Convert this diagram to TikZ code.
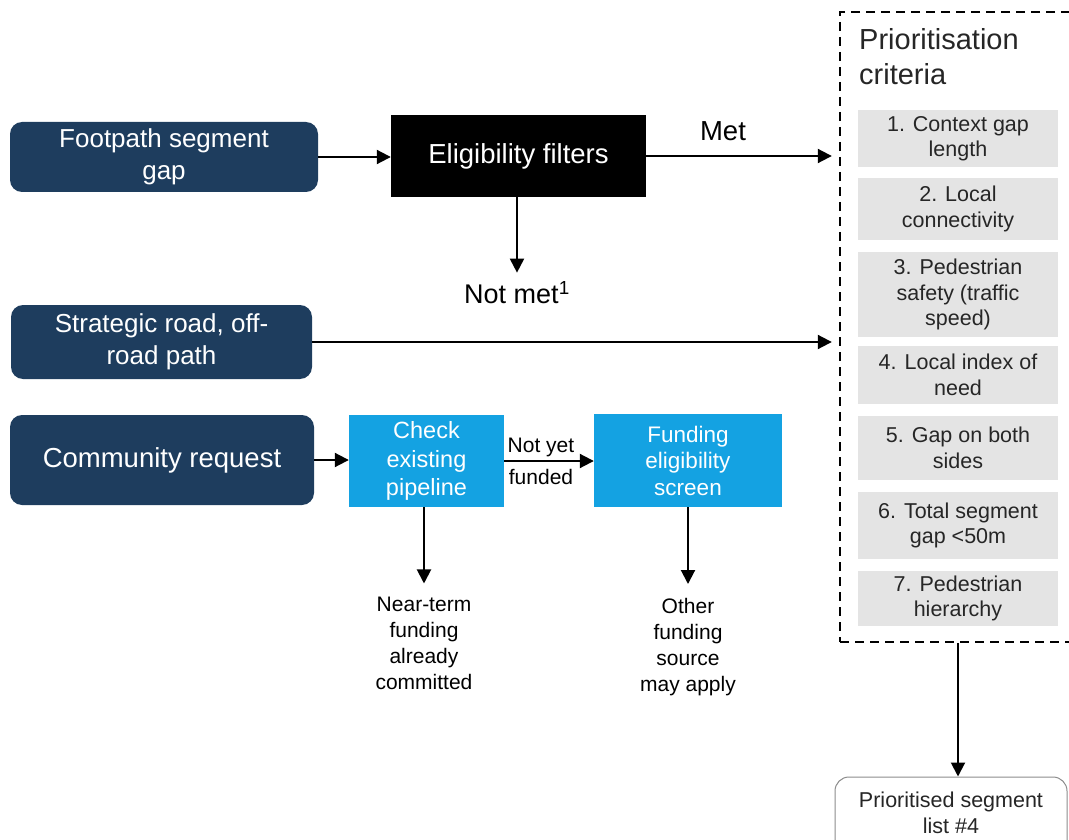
\documentclass[tikz,border=0pt]{standalone}
\usepackage{fontspec}
\setmainfont{Liberation Sans}
\usetikzlibrary{arrows.meta}
\definecolor{navy}{HTML}{1E3D5E}
\definecolor{skyblue}{HTML}{14A2E2}
\definecolor{critgray}{HTML}{E4E4E4}
\newcommand{\fs}[2]{\fontsize{#1}{#2}\selectfont}
\begin{document}
\begin{tikzpicture}[x=1pt,y=-1pt,
  srcbox/.style={draw=none,fill=navy,rounded corners=12pt,text=white,align=center,inner sep=0pt,font=\fs{26}{32}},
  bluebox/.style={draw=none,fill=skyblue,text=white,align=center,inner sep=0pt,font=\fs{23.5}{28.5}},
  critbox/.style={draw=none,fill=critgray,text=black!85,align=center,inner sep=0pt,minimum width=200pt,font=\fs{21.5}{25.5}},
  note/.style={align=center,inner sep=0pt,font=\fs{21}{26}},
  arr/.style={line width=2pt,-{Triangle[length=14pt,width=14pt]}}]
\useasboundingbox (0,0) rectangle (1069,840);
\begin{scope}
\clip (0,0) rectangle (1069,840);

% sources
\node[srcbox,minimum width=308pt,minimum height=70pt] (foot) at (164,157) {Footpath segment\\gap};
\node[srcbox,minimum width=301pt,minimum height=74pt] (strat) at (161.5,342) {Strategic road, off-\\road path};
\node[srcbox,minimum width=304pt,minimum height=90pt,font=\fs{27.5}{32}] (comm) at (162,460) {Community request};

% filter
\node[fill=black,text=white,inner sep=0pt,minimum width=255pt,minimum height=82pt,font=\fs{27.5}{32}] (elig) at (518.5,156) {Eligibility filters};
\node[inner sep=0pt,font=\fs{27}{32}] (notmet) at (517,293) {Not met\textsuperscript{1}};
\node[inner sep=0pt,font=\fs{27.5}{32}] (met) at (723,131) {Met};

% community request path
\node[bluebox,minimum width=155pt,minimum height=92pt] (check) at (426.5,461) {Check\\existing\\pipeline};
\node[bluebox,minimum width=188pt,minimum height=93pt,font=\fs{22.5}{26.5}] (fund) at (688,460.5) {Funding\\eligibility\\screen};
\node[note] (near) at (424,643) {Near-term\\funding\\already\\committed};
\node[note] (other) at (688,647) {Other\\funding\\source\\may apply};
\node[note,font=\fs{21}{32}] (notyet) at (541,461) {Not yet\\funded};

% prioritisation criteria
\node[draw,dashed,line width=2.4pt,dash pattern=on 9pt off 6pt,inner sep=0pt,
      minimum width=250pt,minimum height=630pt] (crit) at (965,327) {};
\node[anchor=west,align=left,inner sep=0pt,font=\fs{29}{35},text=black!85] (crittitle) at (859,57) {Prioritisation\\criteria};
\node[critbox,minimum height=57pt] (c1) at (958,138.5) {1. Context gap\\length};
\node[critbox,minimum height=62pt] (c2) at (958,209) {2. Local\\connectivity};
\node[critbox,minimum height=85pt] (c3) at (958,294.5) {3. Pedestrian\\safety (traffic\\speed)};
\node[critbox,minimum height=58pt] (c4) at (958,375) {4. Local index of\\need};
\node[critbox,minimum height=64pt] (c5) at (958,448) {5. Gap on both\\sides};
\node[critbox,minimum height=67pt] (c6) at (958,525.5) {6. Total segment\\gap <50m};
\node[critbox,minimum height=55pt] (c7) at (958,598.5) {7. Pedestrian\\hierarchy};

% output
\node[draw=black!45,line width=1pt,rounded corners=14pt,fill=white,inner sep=0pt,
      minimum width=232pt,minimum height=80pt] (final) at (951,817) {};
\node[note,text=black!85,font=\fs{21.5}{26}] (finaltext) at (951,813) {Prioritised segment\\list \#4};

% connectors
\draw[arr] (foot.east) -- (elig.west |- foot.east);
\draw[arr] (elig.east) -- ([xshift=-7pt]elig.east -| crit.west);
\draw[arr] (elig.south -| notmet) -- ([yshift=9pt]notmet.north);
\draw[arr] (strat.east) -- ([xshift=-7pt]strat.east -| crit.west);
\draw[arr] (comm.east) -- (check.west |- comm.east);
\draw[arr] (check.east) -- (fund.west |- check.east);
\draw[arr] (check.south -| near) -- ([yshift=13pt]near.north);
\draw[arr] (fund.south) -- ([yshift=14pt]other.north -| fund.south);
\draw[arr] (crit.south -| c7) -- (final.north -| c7);
\end{scope}
\end{tikzpicture}
\end{document}
